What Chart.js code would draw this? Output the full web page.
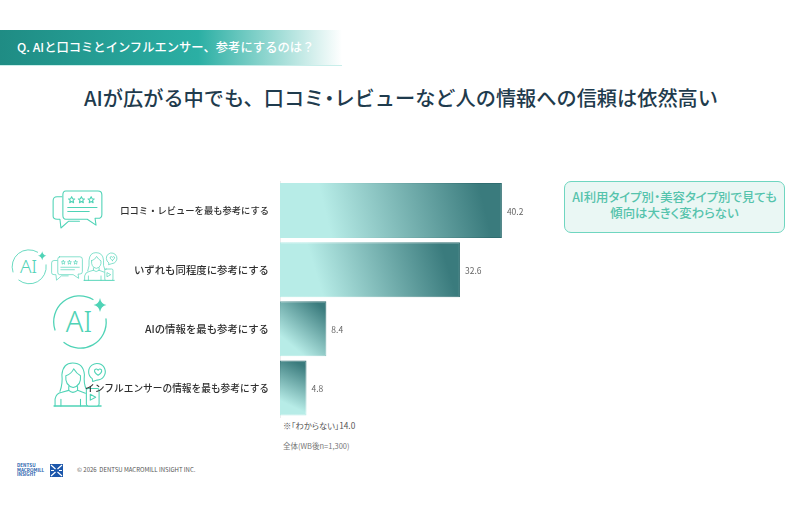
<!DOCTYPE html>
<html lang="ja">
<head>
<meta charset="utf-8">
<script src="https://cdn.jsdelivr.net/npm/chart.js@4/dist/chart.umd.min.js"></script>
<style>
html,body{margin:0;padding:0;background:#fff;width:800px;height:510px;overflow:hidden;font-family:"Noto Sans CJK JP","Noto Sans",sans-serif}
#wrap{position:relative;width:800px;height:510px}
#chart{position:absolute;left:0;top:0;z-index:2}
.t{position:absolute;white-space:nowrap}
.p{font-feature-settings:"palt"}
#head{position:absolute;left:0;top:30px;width:342px;height:36px;background:linear-gradient(90deg,#1f8c84 0%,#2bafa4 58%,#8fd6cf 78%,rgba(255,255,255,0) 100%);border-bottom:1px solid #c9eeea;box-sizing:border-box}
#note{position:absolute;left:564px;top:181px;width:221px;height:52px;box-sizing:border-box;border:1.8px solid #6fd6c0;border-radius:7px;background:#eaf7f4;color:#55c3ac;font-size:12.4px;line-height:15.5px;font-weight:500;text-align:center;padding-top:8px;font-feature-settings:"palt"}
svg.ic{position:absolute;overflow:visible}
</style>
</head>
<body>
<div id="wrap">
<canvas id="chart" width="800" height="510" style="width:800px;height:510px"></canvas>
<div id="head"></div>
<div class="t" style="left:17px;top:38px;font-size:12.3px;line-height:19px;font-weight:500;color:#fff">Q. AIと口コミとインフルエンサー、参考にするのは？</div>
<div class="t" style="left:1px;width:800px;text-align:center;top:81px;font-size:20.2px;line-height:34px;font-weight:500;color:#1f3b4d">AIが広がる中でも、口コミ<span class="p">・</span>レビューなど人の情報への信頼は依然高い</div>
<div id="note">AI利用タイプ別・美容タイプ別で見ても<br>傾向は大きく変わらない</div>
<div class="t p" style="left:283px;top:417px;font-size:8.3px;line-height:16px;color:#555">※「わからない」14.0</div>
<div class="t p" style="left:283px;top:440px;font-size:7.5px;line-height:12px;color:#777">全体(WB後n=1,300)</div>
<div class="t p" style="left:77px;top:465px;font-size:6px;line-height:10px;color:#555">© 2026&nbsp; DENTSU MACROMILL INSIGHT INC.</div>
<div class="t p" style="left:17px;top:463px;font-size:4.6px;line-height:4.6px;color:#2a62ad;font-weight:700">DENTSU<br>MACROMILL<br>INSIGHT</div>

<svg width="0" height="0" style="position:absolute">
<defs>
<path id="star" d="M0,-3.2 L1,-1 3.2,-.8 1.5,.7 2,3 0,1.8 -2,3 -1.5,.7 -3.2,-.8 -1,-1Z"/>
<symbol id="ai" viewBox="0 0 60 60" overflow="visible">
<g fill="none" stroke="#4fd3b6" stroke-width="1.3" stroke-linecap="round">
<path d="M41 9.500A26 26 0 0 0 3 40"/>
<path d="M12 52.500A26 26 0 0 0 54 29"/>
</g>
<path d="M48 8 Q49 14 54.500 15 Q49 16 48 22 Q47 16 41.500 15 Q47 14 48 8Z" fill="#4fd3b6"/>
<text x="27" y="42" text-anchor="middle" font-size="29" font-family="Noto Sans" font-weight="300" fill="#4fd3b6">AI</text>
</symbol>
<symbol id="rev" viewBox="0 0 52 40" overflow="visible">
<g fill="none" stroke="#4fd3b6" stroke-width="1.100" stroke-linejoin="round" stroke-linecap="round">
<path d="M10 7H5Q1 7 1 11V27Q1 30 5 30H8L9 39 17 32H28"/>
<path d="M14 1H47Q51 1 51 5V25Q51 29 47 29H44L45 36 36 30H14Q11 30 11 26V5Q11 1 14 1Z" fill="#fff"/>
<use href="#star" x="20" y="10"/><use href="#star" x="30" y="10"/><use href="#star" x="40" y="10"/>
<path d="M16 18H46M16 22H38"/>
</g>
</symbol>
<symbol id="wom" viewBox="0 0 54 46" overflow="visible">
<g fill="none" stroke="#4fd3b6" stroke-width="1.100" stroke-linejoin="round" stroke-linecap="round">
<path d="M6 30Q9 22 8 13Q9 1 19 1Q30 1 31 13Q30 22 33 28"/>
<path d="M12 14Q18 12 20 7Q23 12 27 14Q28 24 19.500 26Q11 24 12 14Z"/>
<path d="M15 25V29Q19 33 24 29V25"/>
<path d="M1 45V38Q2 32 8 31L15 29M24 29L32 32"/>
<path d="M7 45V38M27 45V38"/>
<path d="M0 45H48" stroke-width="1.500"/>
<rect x="33" y="27" width="13" height="18" rx="2" fill="#fff"/>
<path d="M37 33L42.500 36 37 39Z"/>
<path d="M39 17 A8.500 8.500 0 1 1 44 18.500 L39.500 20Z"/>
<path d="M45 13.500Q40.500 10.500 41.500 8Q43.500 6 45 8.500Q46.500 6 48.500 8Q49.500 10.500 45 13.500Z"/>
</g>
</symbol>
</defs>
</svg>
<svg class="ic" style="left:52px;top:190px" width="51" height="39"><use href="#rev" width="51" height="39"/></svg>
<svg class="ic" style="left:11px;top:246px" width="39" height="39"><use href="#ai" width="39" height="39"/></svg>
<svg class="ic" style="left:51px;top:256px" width="32" height="25"><use href="#rev" width="32" height="25"/></svg>
<svg class="ic" style="left:84px;top:252px" width="34" height="29"><use href="#wom" width="34" height="29"/></svg>
<svg class="ic" style="left:52px;top:290px" width="60" height="60"><use href="#ai" width="60" height="60"/></svg>
<svg class="ic" style="left:54px;top:362px" width="53" height="45"><use href="#wom" width="53" height="45"/></svg>
<svg class="ic" style="left:50px;top:464px" width="13" height="13" viewBox="0 0 13 13">
<rect width="13" height="13" fill="#1c57ab"/>
<path d="M1 1L5.500 5M12 1L7.500 5M1 12L5.500 8M12 12L7.500 8M1 6.500H4M12 6.500H9" stroke="#fff" stroke-width="1.200" fill="none"/>
</svg>
</div>

<script>
const categories = ["口コミ・レビューを最も参考にする","いずれも同程度に参考にする","AIの情報を最も参考にする","インフルエンサーの情報を最も参考にする"];
const values = [40.2, 32.6, 8.4, 4.8];
const valueLabels = ["40.2","32.6","8.4","4.8"];
const tickFontSizes = [9.3, 10.4, 10.4, 9.7];

function barGrad(c, a, b) {
  const chart = c.chart;
  const xs = chart.scales.x, ys = chart.scales.y;
  if (c.type !== "data" || !xs || !ys) return b;
  const x0 = xs.getPixelForValue(0), x1 = xs.getPixelForValue(values[c.dataIndex]);
  const yc = ys.getPixelForValue(c.dataIndex), h = 27.5;
  if (![x0, x1, yc].every(Number.isFinite)) return b;
  const g = chart.ctx.createLinearGradient(x0, yc + h, x1, yc - h);
  g.addColorStop(0, a);
  g.addColorStop(0.22, a);
  g.addColorStop(0.9, b);
  g.addColorStop(1, b);
  return g;
}

const valueLabelPlugin = {
  id: "valueLabelPlugin",
  afterDatasetsDraw(chart) {
    const ctx = chart.ctx;
    const meta = chart.getDatasetMeta(0);
    ctx.save();
    ctx.font = '8.5px "Noto Sans CJK JP","Noto Sans",sans-serif';
    ctx.fillStyle = "#666";
    ctx.textBaseline = "middle";
    meta.data.forEach((el, i) => ctx.fillText(valueLabels[i], el.x + 5, el.y + 1));
    ctx.restore();
  }
};

new Chart(document.getElementById("chart"), {
  type: "bar",
  plugins: [valueLabelPlugin],
  data: {
    labels: categories,
    datasets: [{
      data: values,
      barPercentage: 0.93,
      categoryPercentage: 1,
      borderWidth: 1,
      borderSkipped: false,
      backgroundColor: c => barGrad(c, "#b7ece7", "#3a7b7d"),
      borderColor: c => barGrad(c, "#b7ece7", "#2f6d70")
    }]
  },
  options: {
    indexAxis: "y",
    responsive: false,
    animation: false,
    devicePixelRatio: 1,
    layout: { padding: { left: 0, right: 244, top: 181, bottom: 92.5 } },
    plugins: { legend: { display: false }, tooltip: { enabled: false } },
    scales: {
      x: { display: false, min: 0, max: 50 },
      y: {
        afterFit(s) { s.width = 280; },
        grid: { display: false, drawTicks: false },
        border: { display: true, color: "#ececec" },
        ticks: {
          padding: 11,
          color: "#2f2f2f",
          font: c => ({ family: '"Noto Sans CJK JP","Noto Sans",sans-serif', size: tickFontSizes[c.index], weight: 500 })
        }
      }
    }
  }
});
</script>
</body>
</html>
